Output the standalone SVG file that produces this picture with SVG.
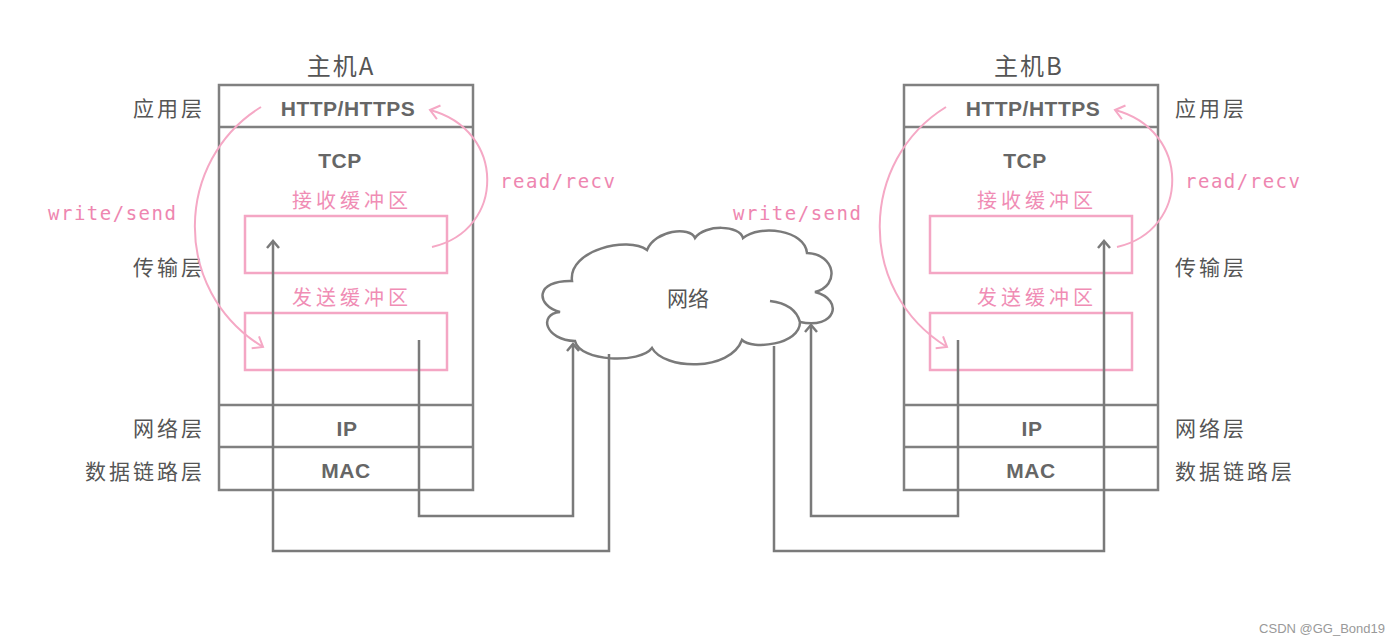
<svg xmlns="http://www.w3.org/2000/svg" width="1400" height="643" viewBox="0 0 1400 643">
<style>
.box{fill:none;stroke:#808080;stroke-width:2.5}
.ln{fill:none;stroke:#808080;stroke-width:2.5}
.buf{fill:none;stroke:#f4a6c4;stroke-width:2.5}
.conn{fill:none;stroke:#7a7a7a;stroke-width:2.5}
.pk{fill:none;stroke:#f5a8c5;stroke-width:2}
.lbl{font-family:"Noto Sans CJK SC","Noto Sans",sans-serif;font-size:21px;fill:#555;letter-spacing:3px}
.title{font-family:"Noto Sans CJK SC","Noto Sans",sans-serif;font-size:24px;fill:#555;letter-spacing:2px}
.proto{font-family:"Liberation Sans",Arial,sans-serif;font-weight:bold;font-size:21px;fill:#666;text-anchor:middle;letter-spacing:0.5px}
.bufl{font-family:"Noto Sans CJK SC","Noto Sans",sans-serif;font-size:20px;fill:#f08db5;text-anchor:middle;letter-spacing:4px}
.api{font-family:"DejaVu Sans Mono","Liberation Mono",monospace;font-size:19px;fill:#ee86b0;letter-spacing:1.5px}
</style>
<defs>
<marker id="ga" markerWidth="16" markerHeight="16" refX="8" refY="8" orient="auto" markerUnits="userSpaceOnUse">
<path d="M1,2 L8,8 L1,14" fill="none" stroke="#7a7a7a" stroke-width="2.5"/>
</marker>
<marker id="pa" markerWidth="20" markerHeight="20" refX="10" refY="10" orient="auto" markerUnits="userSpaceOnUse">
<path d="M1,3 L10,10 L1,17" fill="none" stroke="#f5a8c5" stroke-width="2"/>
</marker>
</defs>

<g id="hostA">
<text class="title" x="341" y="75" text-anchor="middle">主机A</text>
<rect class="box" x="219" y="85" width="254" height="405"/>
<line class="ln" x1="219" y1="127" x2="473" y2="127"/>
<line class="ln" x1="219" y1="405" x2="473" y2="405"/>
<line class="ln" x1="219" y1="447" x2="473" y2="447"/>
<text class="proto" x="348" y="116">HTTP/HTTPS</text>
<text class="proto" x="340" y="168">TCP</text>
<text class="bufl" x="352" y="208">接收缓冲区</text>
<rect class="buf" x="245" y="216" width="202" height="57"/>
<text class="bufl" x="352" y="305">发送缓冲区</text>
<rect class="buf" x="245" y="313" width="202" height="57"/>
<text class="proto" x="347" y="436">IP</text>
<text class="proto" x="346" y="478">MAC</text>
</g>

<g id="hostB">
<text class="title" x="1029" y="75" text-anchor="middle">主机B</text>
<rect class="box" x="904" y="85" width="254" height="405"/>
<line class="ln" x1="904" y1="127" x2="1158" y2="127"/>
<line class="ln" x1="904" y1="405" x2="1158" y2="405"/>
<line class="ln" x1="904" y1="447" x2="1158" y2="447"/>
<text class="proto" x="1033" y="116">HTTP/HTTPS</text>
<text class="proto" x="1025" y="168">TCP</text>
<text class="bufl" x="1037" y="208">接收缓冲区</text>
<rect class="buf" x="930" y="216" width="202" height="57"/>
<text class="bufl" x="1037" y="305">发送缓冲区</text>
<rect class="buf" x="930" y="313" width="202" height="57"/>
<text class="proto" x="1032" y="436">IP</text>
<text class="proto" x="1031" y="478">MAC</text>
</g>

<g id="layer-labels">
<text class="lbl" x="205" y="116" text-anchor="end">应用层</text>
<text class="lbl" x="205" y="275" text-anchor="end">传输层</text>
<text class="lbl" x="205" y="436" text-anchor="end">网络层</text>
<text class="lbl" x="205" y="479" text-anchor="end">数据链路层</text>
<text class="lbl" x="1175" y="116">应用层</text>
<text class="lbl" x="1175" y="275">传输层</text>
<text class="lbl" x="1175" y="436">网络层</text>
<text class="lbl" x="1175" y="479">数据链路层</text>
</g>

<g id="network">
<path d="M560,312 C535,305 535,280 572,281 C568,250 628,236 647,250 C655,230 690,226 695,238 C705,224 740,225 743,238 C760,224 805,230 807,253 C836,254 840,286 815,292 C845,300 835,330 800,322 C800,345 752,350 742,340 C730,372 664,370 652,348 C640,364 580,362 575,341 C545,340 538,314 560,312 Z" fill="#fff" stroke="#7a7a7a" stroke-width="2.5"/>
<path d="M770,301 Q795,304 800,322" fill="none" stroke="#7a7a7a" stroke-width="2.5"/>
<text x="688" y="306" text-anchor="middle" style="font-family:'Noto Sans CJK SC','Noto Sans',sans-serif;font-size:21px;fill:#555">网络</text>
</g>

<g id="connectors">
<polyline class="conn" points="419,340 419,516 573,516 573,344" marker-end="url(#ga)"/>
<polyline class="conn" points="609,354 609,551 273,551 273,241" marker-end="url(#ga)"/>
<polyline class="conn" points="958,340 958,516 811,516 811,325" marker-end="url(#ga)"/>
<polyline class="conn" points="774,346 774,551 1104,551 1104,241" marker-end="url(#ga)"/>
<path class="pk" d="M261,107 C175,160 170,290 263,347" marker-end="url(#pa)"/>
<path class="pk" d="M432,247 C506,230 506,130 430,110" marker-end="url(#pa)"/>
<path class="pk" d="M946,107 C860,160 855,290 947,347" marker-end="url(#pa)"/>
<path class="pk" d="M1117,247 C1191,230 1191,130 1115,110" marker-end="url(#pa)"/>
<text class="api" x="48" y="220">write/send</text>
<text class="api" x="500" y="188">read/recv</text>
<text class="api" x="733" y="220">write/send</text>
<text class="api" x="1185" y="188">read/recv</text>
</g>

<text x="1385" y="633" text-anchor="end" style="font-family:'Liberation Sans',Arial,sans-serif;font-size:13px;fill:#999">CSDN @GG_Bond19</text>
</svg>
